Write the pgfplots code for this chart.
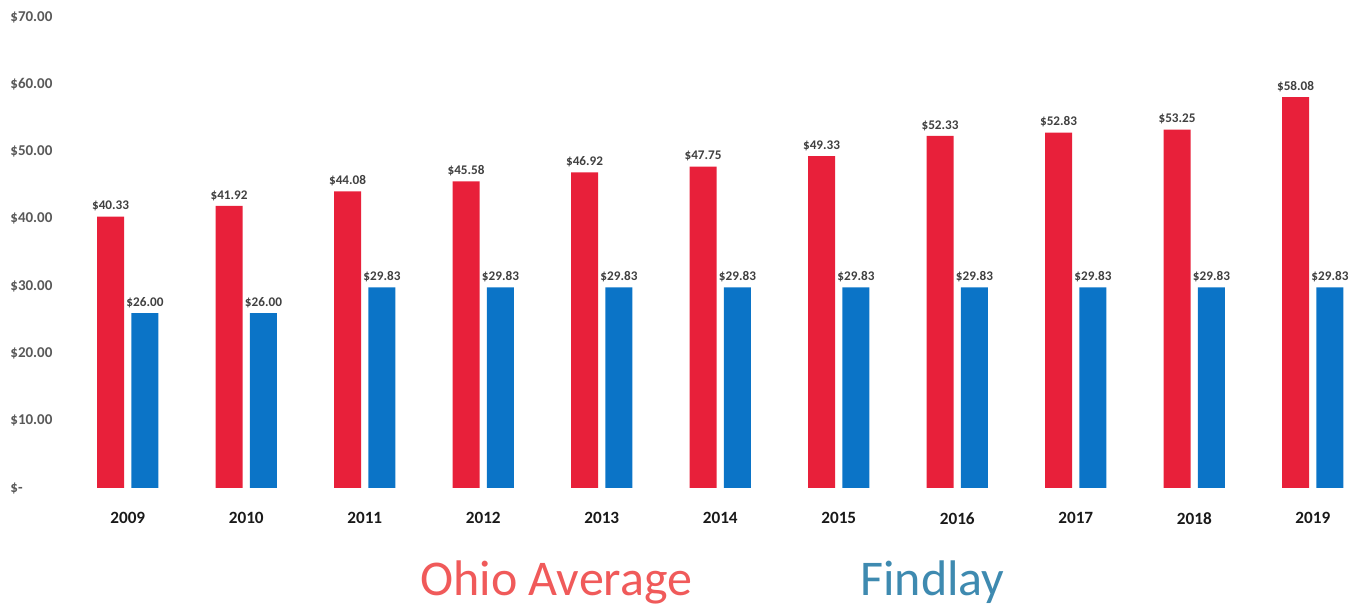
\documentclass[border=0pt]{standalone}
\usepackage{pgfplots}
\pgfplotsset{compat=1.18}
\usepackage{fontspec}
\setmainfont{Carlito}
\definecolor{ohred}{HTML}{E8203A}
\definecolor{fdblue}{HTML}{0B74C7}
\definecolor{legred}{HTML}{F05A5A}
\definecolor{legblue}{HTML}{3E8AB0}
\definecolor{lblgray}{HTML}{404040}
\definecolor{tickgray}{HTML}{595959}
\begin{document}
\begin{tikzpicture}
\path[use as bounding box] (0,0) rectangle (682.5pt,302.5pt);
\begin{axis}[
  at={(34.25pt,58.5pt)}, anchor=south west,
  scale only axis, width=648.2pt, height=235.5pt,
  xmin=-0.5, xmax=10.44, ymin=0, ymax=70,
  axis line style={draw=none}, major tick length=0pt,
  xtick={0,...,10},
  xticklabels={2009,2010,2011,2012,2013,2014,2015,2016,2017,2018,2019},
  xticklabel style={font=\fontsize{8.6pt}{10pt}\selectfont\bfseries, text=black!90, anchor=north, yshift=-8.6pt},
  ytick={0,10,...,70},
  yticklabels={\$-,\$10.00,\$20.00,\$30.00,\$40.00,\$50.00,\$60.00,\$70.00},
  yticklabel style={font=\fontsize{7.5pt}{9pt}\selectfont\bfseries, text=tickgray, anchor=west, inner sep=0pt, xshift=-29.25pt},
  ybar, bar width=13.5pt,
  clip=false,
  /pgf/number format/assume math mode=true,
  nodes near coords={\$\pgfmathprintnumber[fixed,fixed zerofill,precision=2]{\pgfplotspointmeta}},
  every node near coord/.append style={font=\fontsize{6.6pt}{8pt}\selectfont\bfseries, text=lblgray, inner sep=2.5pt},
]
\addplot[fill=ohred, draw=none, bar shift=-8.6pt] coordinates {
(0,40.33) (1,41.92) (2,44.08) (3,45.58) (4,46.92) (5,47.75) (6,49.33) (7,52.33) (8,52.83) (9,53.25) (10,58.08)};
\addplot[fill=fdblue, draw=none, bar shift=8.6pt] coordinates {
(0,26.00) (1,26.00) (2,29.83) (3,29.83) (4,29.83) (5,29.83) (6,29.83) (7,29.83) (8,29.83) (9,29.83) (10,29.83)};
\end{axis}
\node[anchor=base west, inner sep=0pt, text=legred, font=\fontsize{25pt}{30pt}\selectfont] at (210pt,5pt) {Ohio Average};
\node[anchor=base west, inner sep=0pt, text=legblue, font=\fontsize{25pt}{30pt}\selectfont] at (430pt,5pt) {Findlay};
\end{tikzpicture}
\end{document}
